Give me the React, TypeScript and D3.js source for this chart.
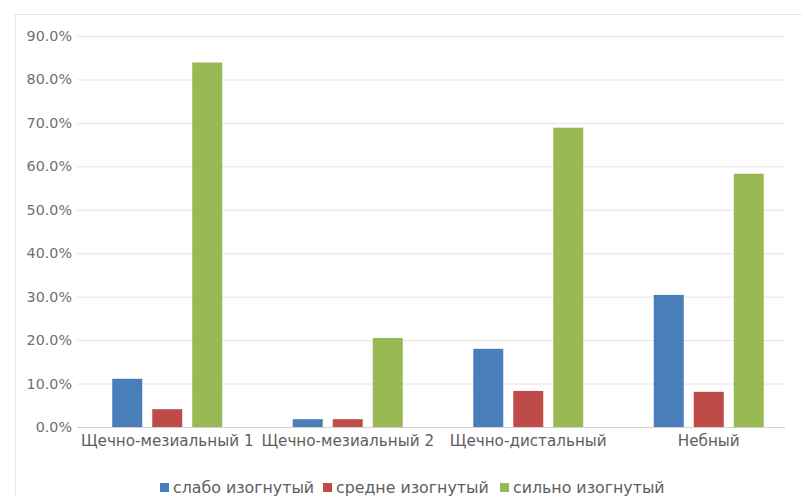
import React from "react";
import * as d3 from "d3";

const categories = ["Щечно-мезиальный 1", "Щечно-мезиальный 2", "Щечно-дистальный", "Небный"];
const seriesNames = ["слабо изогнутый", "средне изогнутый", "сильно изогнутый"];
const slabo = [11.1, 1.8, 18.0, 30.4];
const sredne = [4.1, 1.8, 8.3, 8.1];
const silno = [83.9, 20.5, 68.9, 58.3];
const ticks = [0, 10, 20, 30, 40, 50, 60, 70, 80, 90];
const colors = ["#4a7ebb", "#be4b48", "#98b954"];

export default function App() {
  const W = 802, H = 496;
  const left = 77, right = 799, top = 36, bottom = 427;
  const series = [slabo, sredne, silno];
  const x = d3.scaleBand().domain(categories).range([left, right]).padding(0);
  const y = d3.scaleLinear().domain([0, 90]).range([bottom, top]);
  const barW = 30, step = 40;
  const font = "'DejaVu Sans', sans-serif";
  const legendX = [160, 323, 500];
  return (
    <svg width={W} height={H} style={{ position: "absolute", left: 0, top: 0 }}>
      <rect x={0} y={0} width={W} height={H} fill="#fff" />
      <rect x={15.5} y={14.5} width={W} height={H} fill="none" stroke="#e6e6e6" />
      {ticks.map((t) => (
        <g key={t}>
          <line x1={left} x2={785} y1={y(t) + 0.5} y2={y(t) + 0.5} stroke={t === 0 ? "#d0d0d0" : "#e3e3e3"} strokeWidth={1} />
          <text x={72} y={y(t)} dy="0.35em" textAnchor="end" fontSize={14.3} fill="#707070" fontFamily={font}>
            {t.toFixed(1) + "%"}
          </text>
        </g>
      ))}
      {categories.map((c, i) => {
        const cx = x(c)! + x.bandwidth() / 2;
        return (
          <g key={c}>
            {series.map((s, j) => (
              <rect key={j} x={cx + (j - 1) * step - barW / 2} y={y(s[i])} width={barW} height={bottom - y(s[i])} fill={colors[j]} />
            ))}
            <text x={cx} y={446} textAnchor="middle" fontSize={15.2} fill="#5e5e5e" fontFamily={font}>
              {c}
            </text>
          </g>
        );
      })}
      {seriesNames.map((n, j) => (
        <g key={n}>
          <rect x={legendX[j]} y={483} width={9} height={9} fill={colors[j]} />
          <text x={legendX[j] + 13} y={487} dy="0.35em" fontSize={15.8} fill="#5e5e5e" fontFamily={font}>
            {n}
          </text>
        </g>
      ))}
    </svg>
  );
}
